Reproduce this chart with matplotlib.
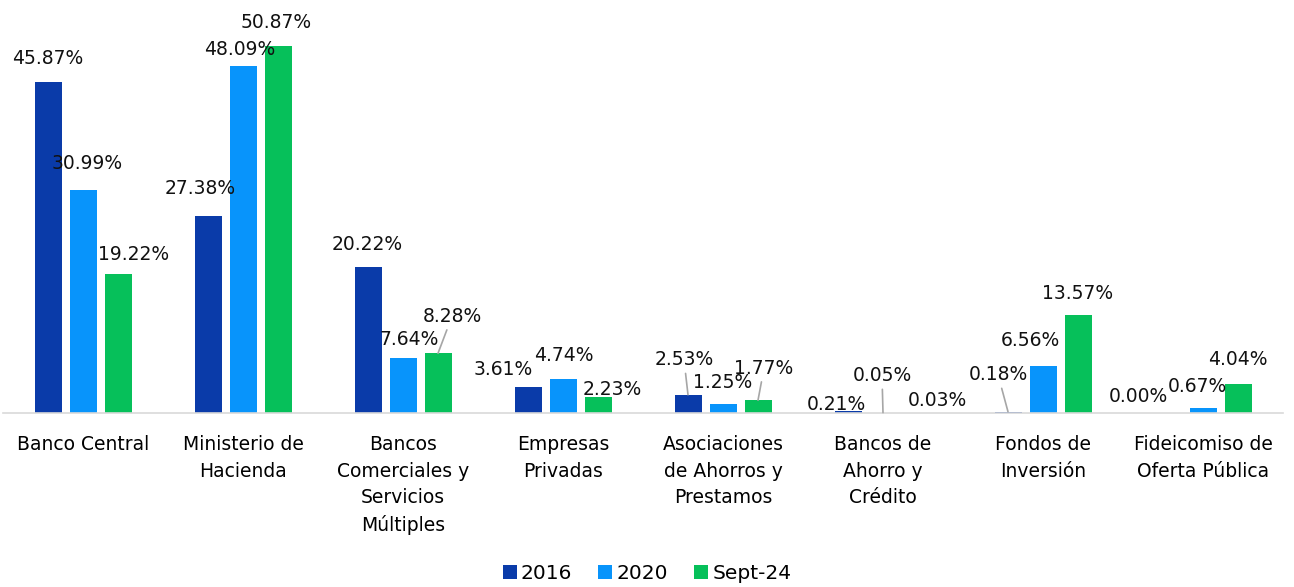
import matplotlib.pyplot as plt
import numpy as np

categorias = ['Banco Central', 'Ministerio de\nHacienda',
              'Bancos\nComerciales y\nServicios\nMúltiples',
              'Empresas\nPrivadas', 'Asociaciones\nde Ahorros y\nPrestamos',
              'Bancos de\nAhorro y\nCrédito', 'Fondos de\nInversión',
              'Fideicomiso de\nOferta Pública']
series = ['2016', '2020', 'Sept-24']
v2016 = [45.87, 27.38, 20.22, 3.61, 2.53, 0.21, 0.18, 0.00]
v2020 = [30.99, 48.09, 7.64, 4.74, 1.25, 0.05, 6.56, 0.67]
vsep24 = [19.22, 50.87, 8.28, 2.23, 1.77, 0.03, 13.57, 4.04]

colores = ['#0A3BA9', '#0894FB', '#06C05A']

# desplazamientos de etiquetas (pixeles) respecto al tope de cada barra
off2016 = [(0, 24), (-8, 27), (-1, 23), (-25, 17), (-4, 35), (-12, 7), (-10, 37), (-30, 17)]
off2020 = [(4, 26), (-3, 17), (6, 18), (1, 23), (0, 21), (-1, 37), (-13, 25), (-6, 22)]
offsep = [(16, 20), (-2, 24), (14, 37), (14, 7), (6, 32), (19, 12), (0, 22), (0, 24)]
lineas = {(2, 2), (0, 4), (2, 4), (1, 5), (0, 6)}  # (serie, categoria) con linea guia

plt.rcParams['font.family'] = ['DejaVu Sans']
fig = plt.figure(figsize=(12.94, 5.87), dpi=100)
ax = fig.add_axes([3 / 1294, 1 - 413 / 587, 1280 / 1294, 413 / 587])

x = np.arange(len(categorias))
paso = 35 / 160
ancho = 27 / 160
valores = [v2016, v2020, vsep24]
offsets = [off2016, off2020, offsep]
for i, (vals, nombre, col) in enumerate(zip(valores, series, colores)):
    xs = x + (i - 1) * paso
    ax.bar(xs, vals, width=ancho, color=col, label=nombre)
    for j, (xi, v) in enumerate(zip(xs, vals)):
        dx, dy = offsets[i][j]
        props = None
        if (i, j) in lineas:
            props = dict(arrowstyle='-', color='#A6A6A6', lw=1.2, shrinkA=1, shrinkB=0)
        ax.annotate(f'{v:.2f}%', xy=(xi, v), xytext=(dx, dy),
                    textcoords='offset pixels', ha='center', va='center',
                    fontsize=13.5, color='#111111', arrowprops=props)

ax.set_xlim(-0.5, 7.5)
ax.set_ylim(0, 57.3)
ax.set_yticks([])
ax.set_xticks(x)
ax.set_xticklabels(categorias, fontsize=13.5, linespacing=1.5)
ax.tick_params(axis='x', length=0, pad=16)
for s in ['top', 'right', 'left']:
    ax.spines[s].set_visible(False)
ax.spines['bottom'].set_color('#D9D9D9')
ax.spines['bottom'].set_linewidth(1.2)

fig.legend(loc='lower center', bbox_to_anchor=(0.5, -0.024), ncol=3, frameon=False,
           fontsize=14.5, handlelength=0.7, handleheight=0.7, handletextpad=0.2,
           columnspacing=1.3)

fig.savefig('out.png', dpi=100)
